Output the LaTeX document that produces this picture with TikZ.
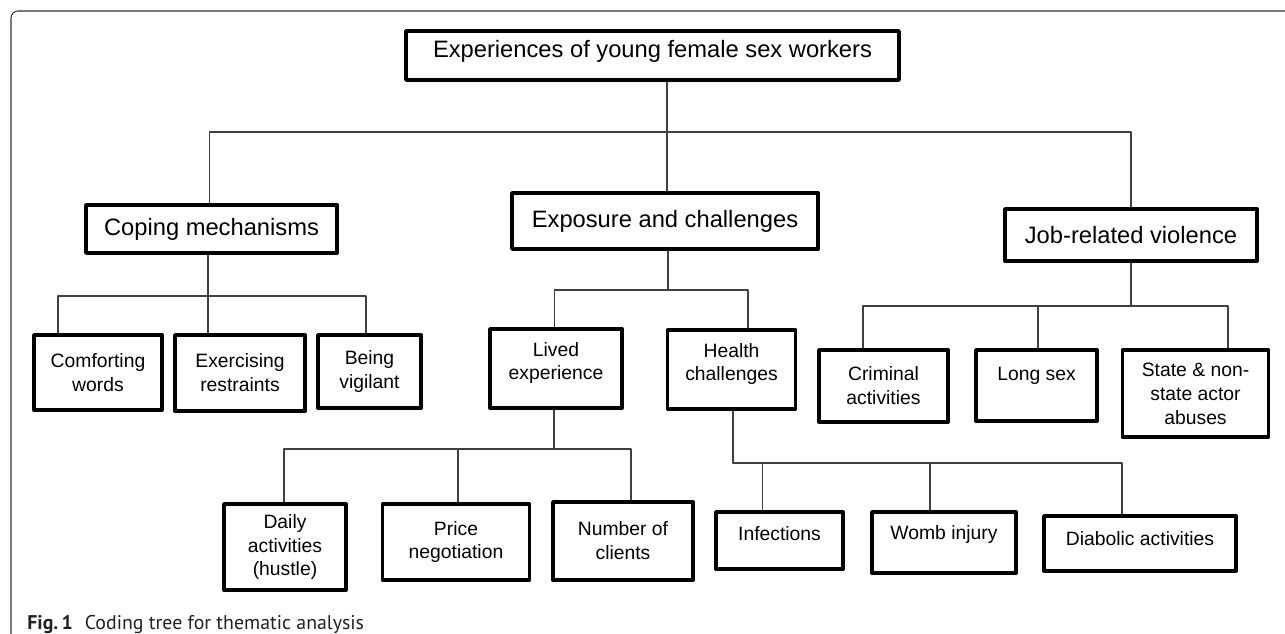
\documentclass[tikz,border=0pt]{standalone}
\usepackage{fontspec}
\setmainfont{Liberation Sans}
\newfontfamily\capfont{PT Sans}
\definecolor{capgray}{RGB}{35,31,32}
\tikzset{
	head/.style={draw, line width=2.2pt, font=\fontsize{13.5}{16}\selectfont, inner sep=0pt},
	leaf/.style={draw, line width=2.2pt, font=\fontsize{11}{13.6}\selectfont, align=center, inner sep=0pt},
	link/.style={line width=.7pt, black!75},
}
\begin{document}
\begin{tikzpicture}[x=.02cm, y=-.02cm, line join=round, line cap=round]
			\useasboundingbox (0,0) rectangle (1285,634);
			%\draw[gray!30] (0,0) grid[step=50] (1285,634);
			\draw[line width=.6pt, black!80, rounded corners=.14cm] (11,634) -- (11,11) -- (1285,11);
			% the boxes
			\node[head, minimum width=9.86cm, minimum height=.98cm, text depth=.26cm] (root) at (652.5,55.5) {Experiences of young female sex workers};
			\foreach \n/\x/\y/\w/\h/\t in {coping/211.5/229/251/48/Coping mechanisms, expo/665/221/306/56/Exposure and challenges, job/1131/235/252/52/Job-related violence}
				\node[head, minimum width=\w*.02cm, minimum height=\h*.02cm] (\n) at (\x,\y) {\t};
			\foreach \n/\x/\y/\w/\h/\t in {comf/98/372.5/128/75/{Comforting\\words}, exer/240/373/130/76/{Exercising\\restraints}, vigil/369.5/371.5/103/73/{Being\\vigilant}, crim/883.5/386/129/72/{Criminal\\activities}, long/1036.5/385.5/121/71/{Long sex\\\mbox{}}, state/1195.5/393.5/146/87/{State \& non-\\state actor\\abuses}, daily/285/547/122/86/{Daily\\activities\\(hustle)}, price/456/542/147/76/{Price\\negotiation}, number/623/541/140/78/{Number of\\clients}}
				\node[leaf, minimum width=\w*.02cm, minimum height=\h*.02cm] (\n) at (\x,\y) {\t};
			\foreach \n/\x/\y/\w/\h/\d/\t in {lived/556/368.5/132/79/.3/{Lived\\experience}, health/731.5/369.5/128/79/.3/{Health\\challenges}, infect/779.5/540.5/127/57/.3/Infections, womb/944/542.5/144/61/.42/Womb injury, diab/1140/543.5/192/55/.2/Diabolic activities}
				\node[leaf, minimum width=\w*.02cm, minimum height=\h*.02cm, text depth=\d cm] (\n) at (\x,\y) {\t};
			% where the lines branch
			\coordinate (bus0) at (667,132);
			\coordinate (bus1) at (208,296);
			\coordinate (bus2) at (668,290);
			\coordinate (bus3) at (554,449);
			\coordinate (bus4) at (733,463);
			\coordinate (bus5) at (1131,306);
			\draw[link] (root.south -| bus0) -- (expo.north -| bus0);
			\draw[link] ([xshift=-.04cm]coping.north) |- (bus0) -| (job.north);
			\draw[link] (coping.south -| bus1) -- (bus1);
			\draw[link] ([xshift=-.8cm]comf.north) |- (bus1) -| ([xshift=-.07cm]vigil.north);
			\draw[link] (exer.north -| bus1) -- (bus1);
			\draw[link] (expo.south -| bus2) -- (bus2);
			\draw[link] ([xshift=-.03cm]lived.north) |- (bus2) -| ([xshift=.33cm]health.north);
			\draw[link] (lived.south -| bus3) -- (bus3);
			\draw[link] ([xshift=-.02cm]daily.north) |- (bus3) -| ([xshift=.16cm]number.north);
			\draw[link] ([xshift=.04cm]price.north) |- (bus3);
			\draw[link] (health.south -| bus4) -- (bus4) -| ([xshift=-.36cm]diab.north);
			\draw[link] ([xshift=-.34cm]infect.north) |- (bus4);
			\draw[link] ([xshift=-.28cm]womb.north) |- (bus4);
			\draw[link] (job.south -| bus5) -- (bus5);
			\draw[link] ([xshift=-.41cm]crim.north) |- (bus5) -| ([xshift=.65cm]state.north);
			\draw[link] ([xshift=.03cm]long.north) |- (bus5);
			\node[anchor=base west, inner sep=0pt, text=capgray, font=\capfont\fontsize{11.3}{13}\selectfont] (caption) at (27,629) {\textbf{Fig.\,1}\hspace{6.8pt}Coding tree for thematic analysis};
		\end{tikzpicture}
\end{document}
